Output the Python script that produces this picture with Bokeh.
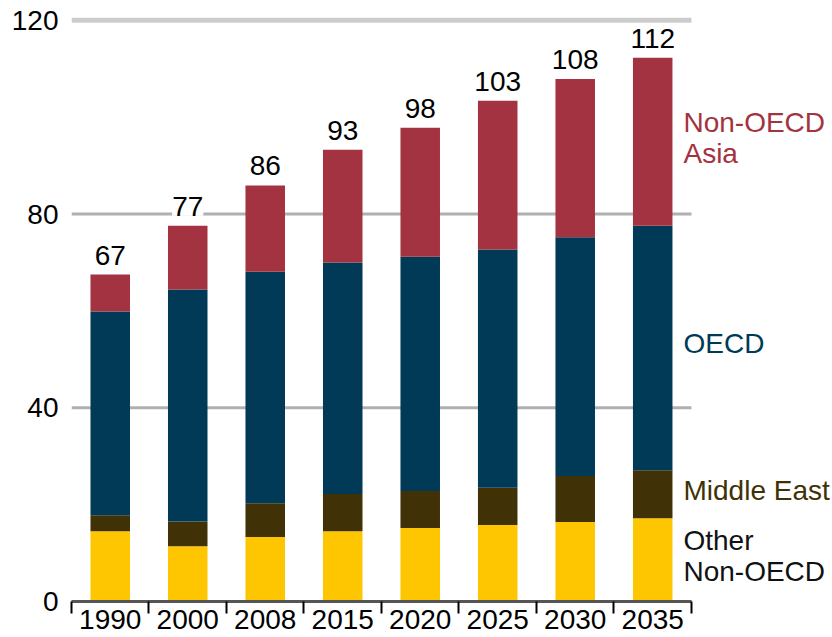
import numpy as np
from bokeh.plotting import figure
from bokeh.models import ColumnDataSource, FixedTicker, Range1d, LabelSet
from bokeh.core.properties import value
from bokeh.embed import file_html
from bokeh.resources import INLINE

# ---- data ----
years = ["1990", "2000", "2008", "2015", "2020", "2025", "2030", "2035"]
other_non_oecd = [14.5, 11.4, 13.3, 14.5, 15.2, 15.8, 16.4, 17.2]
middle_east = [3.3, 5.1, 7.0, 7.7, 7.6, 7.7, 9.5, 9.9]
oecd = [42.1, 47.9, 47.8, 47.8, 48.4, 49.2, 49.3, 50.5]
non_oecd_asia = [7.6, 13.2, 17.8, 23.3, 26.6, 30.7, 32.7, 34.7]
total_labels = ["67", "77", "86", "93", "98", "103", "108", "112"]
series_names = ["Other\nNon-OECD", "Middle East", "OECD", "Non-OECD\nAsia"]
y_ticks = [0, 40, 80, 120]

# ---- styling ----
FONT = "Liberation Sans"
FS = "28px"
bar_colors = ["#FEC600", "#403206", "#003A56", "#A33340"]
label_colors = ["#111111", "#403206", "#003A56", "#A33340"]
grid_colors = ["#c8c8c8", "#b0b0b0", "#b0b0b0", "#cccccc"]
grid_widths = [3, 3, 3, 5]
BAR_W = 0.51

n = len(years)
xs = [i + 0.5 for i in range(n)]
keys = ["other", "me", "oecd", "asia"]
series = [other_non_oecd, middle_east, oecd, non_oecd_asia]
src = ColumnDataSource(dict(x=xs, other=other_non_oecd, me=middle_east,
                            oecd=oecd, asia=non_oecd_asia))

totals = [sum(v) for v in zip(*series)]
lab_src = ColumnDataSource(dict(x=xs, y=totals, text=total_labels))

# series-name labels at the mid of each segment of the last bar
last = [s[-1] for s in series]
cum = np.cumsum([0] + last)
mids = [(cum[i] + cum[i + 1]) / 2 for i in range(len(last))]
name_src = ColumnDataSource(dict(x=[xs[-1] + BAR_W / 2] * len(mids), y=mids,
                                 text=series_names, color=label_colors))

p = figure(width=832, height=637, output_backend="svg", toolbar_location=None,
           x_range=Range1d(0, 9.82), y_range=Range1d(0, 121),
           min_border_left=71, min_border_right=0, min_border_top=15,
           min_border_bottom=36)
p.outline_line_color = None
p.background_fill_color = "white"
p.border_fill_color = "white"

# gridlines limited to the category span
p.xgrid.visible = False
p.ygrid.visible = False
p.segment(x0=[0] * len(y_ticks), x1=[n] * len(y_ticks), y0=y_ticks, y1=y_ticks,
          line_color=grid_colors, line_width=grid_widths, level="underlay")

p.vbar_stack(keys, x="x", width=BAR_W, color=bar_colors, line_color=None,
             source=src)

# y axis
p.yaxis.ticker = FixedTicker(ticks=y_ticks)
p.yaxis.axis_line_color = None
p.yaxis.major_tick_line_color = None
p.yaxis.minor_tick_line_color = None
p.yaxis.major_tick_out = 0
p.yaxis.major_tick_in = 0
p.yaxis.minor_tick_out = 0
p.yaxis.minor_tick_in = 0
p.yaxis.major_label_standoff = 13
p.yaxis.major_label_text_font = FONT
p.yaxis.major_label_text_font_size = FS
p.yaxis.major_label_text_color = "black"

# x axis: labels at centres, tick marks at the category boundaries
p.xaxis.ticker = FixedTicker(ticks=xs, minor_ticks=list(range(n + 1)))
p.xaxis.major_label_overrides = {x: y for x, y in zip(xs, years)}
p.xaxis.bounds = (0, n)
p.xaxis.axis_line_color = "#555555"
p.xaxis.axis_line_width = 3
p.xaxis.major_tick_line_color = None
p.xaxis.major_tick_out = 0
p.xaxis.major_tick_in = 0
p.xaxis.minor_tick_line_color = "black"
p.xaxis.minor_tick_line_width = 2
p.xaxis.minor_tick_out = 12
p.xaxis.minor_tick_in = 0
p.xaxis.major_label_standoff = -4
p.xaxis.major_label_text_font = FONT
p.xaxis.major_label_text_font_size = FS
p.xaxis.major_label_text_color = "black"

# total labels above bars
p.add_layout(LabelSet(x="x", y="y", text="text", source=lab_src,
                      text_align="center", text_baseline="alphabetic",
                      y_offset=10, text_font=value(FONT), text_font_size=FS,
                      text_color="black", background_fill_color="white"))

# series names to the right of the last bar
p.text(x="x", y="y", text="text", source=name_src, x_offset=11, y_offset=-4,
       text_align="left", text_baseline="middle", text_line_height=1.0,
       text_font=value(FONT), text_font_size=FS, text_color="color")

open("out.html", "w").write(file_html(p, INLINE))
